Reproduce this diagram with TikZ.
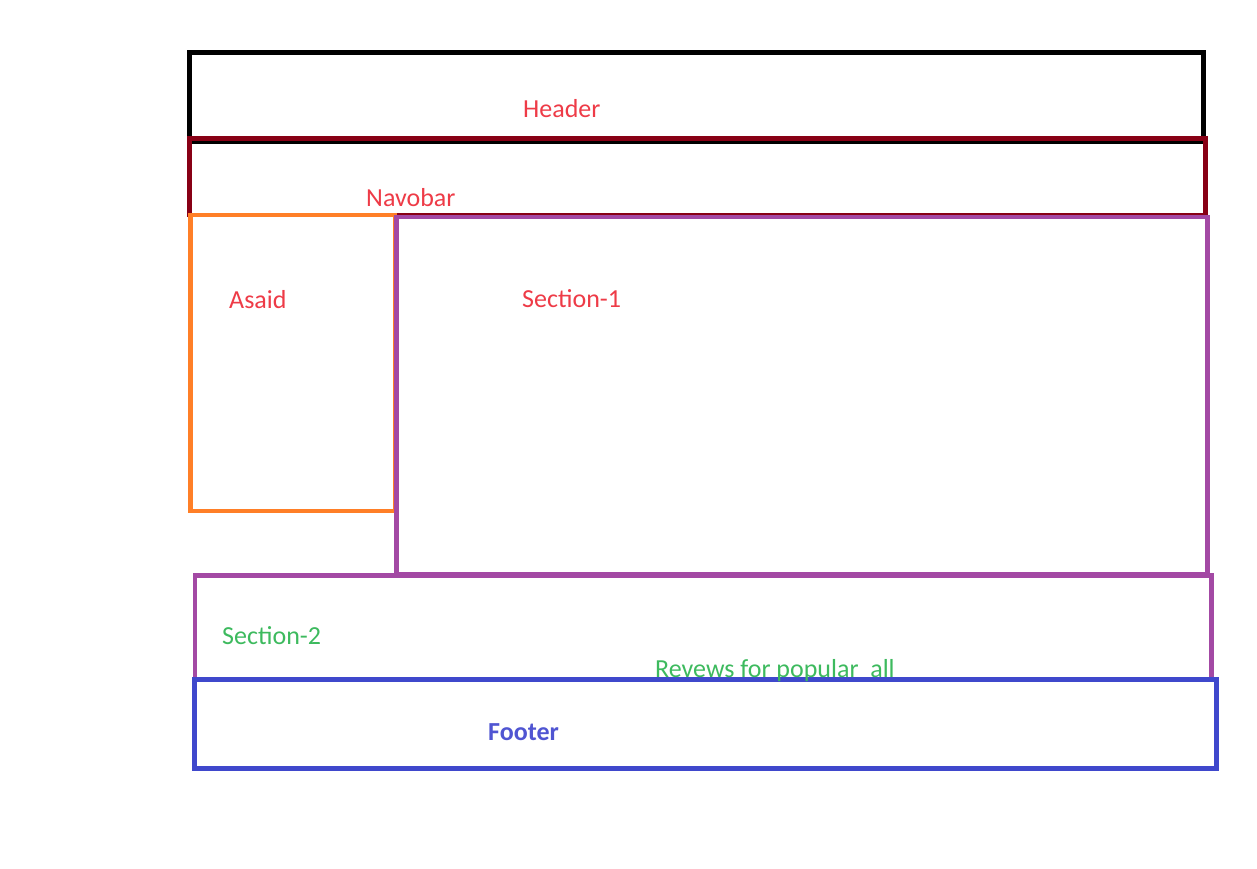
\documentclass[tikz,border=0pt]{standalone}
\usepackage{fontspec}
\setmainfont{Carlito}
\definecolor{hdrblack}{HTML}{000000}
\definecolor{navmaroon}{HTML}{880015}
\definecolor{asorange}{HTML}{FF7F27}
\definecolor{secpurple}{HTML}{A349A4}
\definecolor{footblue}{HTML}{3F48CC}
\definecolor{lblred}{HTML}{EE3B47}
\definecolor{lblgreen}{HTML}{3DBA5E}
\definecolor{lblblue}{HTML}{5055D2}
\begin{document}
\begin{tikzpicture}[x=1pt,y=-1pt,
  box/.style={line width=4.6pt},
  lbl/.style={font=\fontsize{26}{30}\selectfont, inner sep=0pt, anchor=base west}]
\useasboundingbox[fill=white] (0,0) rectangle (1257,869);
% boxes
\draw[box, hdrblack] (189.5,52.5) rectangle (1203.5,141.5);
\draw[box, navmaroon] (189.5,138.5) rectangle (1205.5,215);
\draw[box, asorange] (190.5,215) rectangle (395,511);
\draw[box, secpurple] (396.5,217) rectangle (1207.5,574);
\draw[box, secpurple] (195,575.5) rectangle (1211.5,679);
\draw[box, footblue] (194.5,679.5) rectangle (1216.5,768.5);
% labels
\node[lbl, lblred] (header) at (523,118) {Header};
\node[lbl, lblred] (navbar) at (366,206) {Navobar};
\node[lbl, lblred] (asaid) at (229,308) {Asaid};
\node[lbl, lblred] (sec1) at (522,307) {Section-1};
\node[lbl, lblgreen] (sec2) at (222,644) {Section-2};
\node[lbl, lblgreen] (rev) at (655,677) {Revews for popular\ \ all};
\node[lbl, lblblue, font=\fontsize{26}{30}\selectfont\bfseries] (footer) at (488,740) {Footer};
\end{tikzpicture}
\end{document}
